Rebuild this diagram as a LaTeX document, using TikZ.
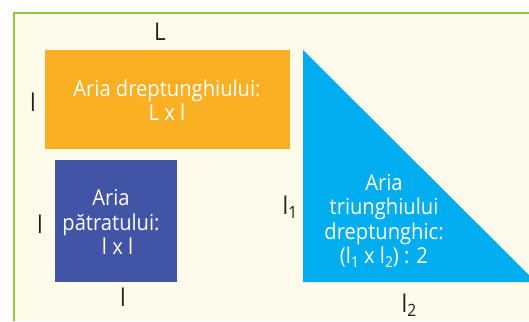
\documentclass[tikz,border=0pt]{standalone}
\usepackage{fontspec}
\setmainfont[FakeStretch=0.92]{Open Sans}
\definecolor{framegreen}{HTML}{8DC63F}
\definecolor{cream}{HTML}{FEFBEA}
\definecolor{rectorange}{HTML}{FBB024}
\definecolor{squareblue}{HTML}{4254A5}
\definecolor{tricyan}{HTML}{00AEEF}
\definecolor{labeltext}{HTML}{231F20}
\newcommand{\lowidx}[2]{\raisebox{-4bp}{\fontsize{#1}{#1}\selectfont #2}}
\begin{document}
\begin{tikzpicture}[x=1bp,y=-1bp,
  shapetext/.style={text=white,align=center,font=\fontsize{22}{24.5}\selectfont,inner sep=0pt},
  sidelabel/.style={text=labeltext,font=\fontsize{24.5}{24.5}\selectfont,inner sep=0pt}]
\useasboundingbox (0,0) rectangle (529,321);
\fill[white] (0,0) rectangle (529,321);
\fill[cream] (14,13) rectangle (529,321);
\draw[framegreen,line width=2.7bp] (14,321) -- (14,13) -- (529,13);
% rectangle
\node[fill=rectorange,minimum width=245bp,minimum height=99bp,inner sep=0pt] (rect) at (167.5,99.5) {};
\node[shapetext] (recttext) at (167,100) {Aria dreptunghiului:\\L x l};
% square
\node[fill=squareblue,minimum width=122bp,minimum height=122bp,inner sep=0pt] (square) at (116,221) {};
\node[shapetext] (squaretext) at (111,222) {Aria\\pătratului:\\\hspace{0.6em}l x l};
% triangle
\coordinate (tA) at (303,50);
\coordinate (tB) at (303,282);
\coordinate (tC) at (536,282);
\fill[tricyan] (tA) -- (tB) -- (tC) -- cycle;
\node[shapetext] (tritext) at (384,221) {Aria\\triunghiului\\dreptunghic:\\(l\lowidx{15}{1} x l\lowidx{15}{2}) : 2};
% labels
\node[sidelabel] (labL) at (160,32) {L};
\node[sidelabel] (labrl) at (33,102) {l};
\node[sidelabel] (labsl) at (40,224) {l};
\node[sidelabel] (labsb) at (123,297) {l};
\node[sidelabel] (labt1) at (290,207) {l\lowidx{17}{1}};
\node[sidelabel] (labt2) at (409,305) {l\lowidx{17}{2}};
\end{tikzpicture}
\end{document}
